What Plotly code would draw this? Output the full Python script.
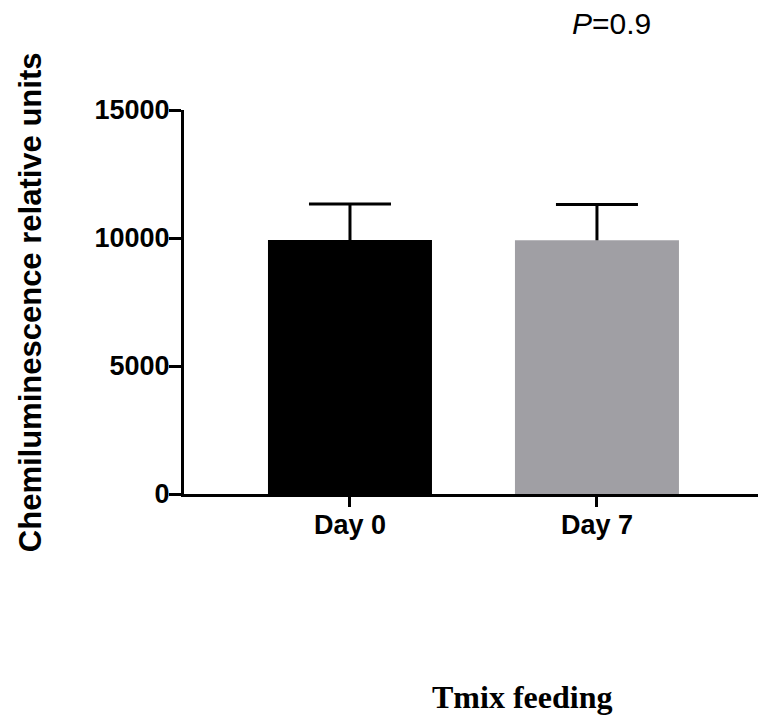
import plotly.graph_objects as go

categories = ["Day 0", "Day 7"]
means = [9920, 9910]
sd = [1410, 1400]
colors = ["#000000", "#a09fa4"]
y_ticks = [0, 5000, 10000, 15000]

tops = [m + s for m, s in zip(means, sd)]

fig = go.Figure()
fig.add_trace(go.Bar(
    x=categories, y=means,
    marker=dict(color=colors, line=dict(width=0)),
    width=0.664,
    error_y=dict(type="data", symmetric=False, array=sd, arrayminus=[0, 0],
                 color="#000000", thickness=3, width=0),
    showlegend=False,
))
# caps of the error bars
fig.add_trace(go.Scatter(
    x=categories, y=tops, mode="markers",
    marker=dict(size=1, color="rgba(0,0,0,0)"),
    error_y=dict(type="data", array=[0, 0], color="#000000", thickness=3, width=41),
    showlegend=False, hoverinfo="skip",
))

axis_font = dict(family="Liberation Sans", size=27, color="#000000", weight="bold")

fig.update_layout(
    width=758, height=719,
    margin=dict(l=184, r=0, t=110, b=225, pad=0),
    plot_bgcolor="white", paper_bgcolor="white",
    xaxis=dict(
        range=[-0.672, 1.652], showline=True, linecolor="#000000", linewidth=3,
        ticks="outside", ticklen=10, tickwidth=3, tickcolor="#000000",
        tickfont=axis_font, showgrid=False, zeroline=False, ticklabelstandoff=-5,
    ),
    yaxis=dict(
        range=[0, 15000], tickvals=y_ticks, ticktext=[str(v) for v in y_ticks],
        showline=True, linecolor="#000000", linewidth=3,
        ticks="outside", ticklen=12, tickwidth=3, tickcolor="#000000",
        tickfont=axis_font, showgrid=False, zeroline=False, ticklabelstandoff=-6,
    ),
    annotations=[
        dict(text="Chemiluminescence relative units", textangle=-90,
             xref="paper", yref="paper", x=-0.268, y=0.5,
             xanchor="center", yanchor="middle", showarrow=False,
             font=dict(family="Liberation Sans", size=31, color="#000000", weight="bold")),
        dict(text="<i>P</i>=0.9", xref="paper", yref="paper", x=0.7456, y=1.224,
             xanchor="center", yanchor="middle", showarrow=False,
             font=dict(family="Liberation Sans", size=30, color="#000000")),
        dict(text="<b>Tmix feeding</b>", xref="paper", yref="paper", x=0.589, y=-0.528,
             xanchor="center", yanchor="middle", showarrow=False,
             font=dict(family="Liberation Serif", size=32, color="#000000")),
    ],
)

fig.write_html("out.html")
